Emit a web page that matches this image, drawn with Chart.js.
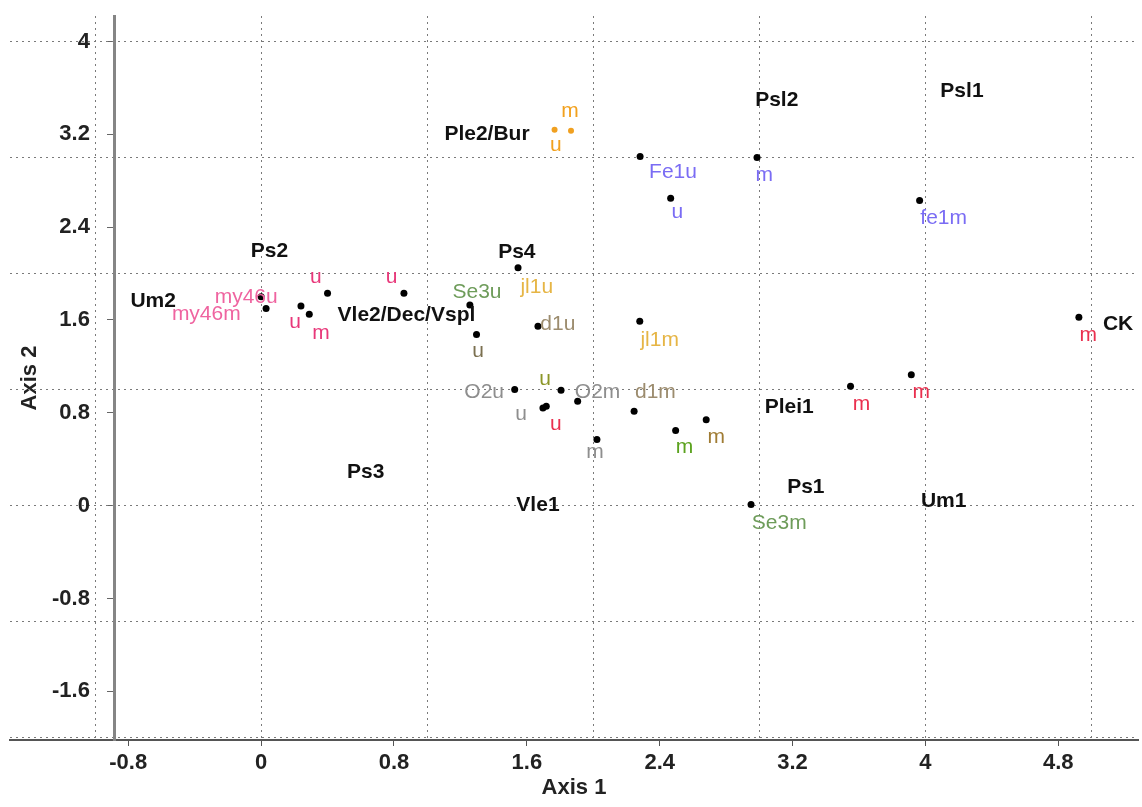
<!DOCTYPE html>
<html>
<head>
<meta charset="utf-8">
<script src="https://cdn.jsdelivr.net/npm/chart.js@4.4.1/dist/chart.umd.min.js"></script>
<style>
  body { margin: 0; background: #fff; }
  #wrap { width: 1142px; height: 807px; }
</style>
</head>
<body>
<div id="wrap"><canvas id="chart-pca"></canvas></div>
<script>
// axis ranges and tick steps
var xRange = [-1.512, 5.28];
var yRange = [-2.02, 4.22];
var tickStep = 0.8;
var gridStep = 1;
var yAxisAt = -0.88;

// black sample points
var dotX = [0.03, 0.0, 0.24, 0.29, 0.40, 0.86, 1.547, 1.257, 1.297, 1.667, 2.28,
            1.527, 1.806, 1.906, 1.697, 1.717, 2.246, 2.022, 2.496, 2.68,
            2.282, 2.466, 2.986, 3.965, 4.924, 3.915, 3.549, 2.95];
var dotY = [1.70, 1.80, 1.72, 1.65, 1.83, 1.83, 2.05, 1.73, 1.474, 1.546, 1.59,
            1.0, 0.994, 0.90, 0.842, 0.856, 0.813, 0.569, 0.647, 0.741,
            3.01, 2.65, 3.0, 2.63, 1.623, 1.129, 1.028, 0.01];

// orange markers (Ple2/Bur)
var accentX = [1.767, 1.866];
var accentY = [3.24, 3.23];

// group names
var groupText = ["Psl1", "Psl2", "Ple2/Bur", "Ps2", "Ps4", "Um2", "Vle2/Dec/Vspl", "CK",
                 "Plei1", "Ps3", "Ps1", "Vle1", "Um1"];
var groupX = [4.22, 3.105, 1.36, 0.05, 1.54, -0.65, 0.875, 5.16, 3.18, 0.63, 3.28, 1.667, 4.11];
var groupY = [3.57, 3.49, 3.20, 2.19, 2.18, 1.76, 1.64, 1.56, 0.845, 0.285, 0.155, 0.0, 0.035];

// sample labels
var labelText = ["my46u", "my46m", "u", "u", "u", "m",
                 "u", "m", "m", "m",
                 "m", "u",
                 "Fe1u", "u", "m", "fe1m",
                 "jl1u", "jl1m",
                 "Se3u", "Se3m",
                 "m", "u",
                 "d1u", "d1m", "u", "m",
                 "O2u", "O2m", "u", "m"];
var labelX = [-0.09, -0.33, 0.33, 0.785, 0.204, 0.36,
              1.775, 3.615, 3.975, 4.98,
              1.86, 1.775,
              2.48, 2.506, 3.03, 4.11,
              1.66, 2.40,
              1.30, 3.12,
              2.55, 1.71,
              1.787, 2.374, 1.307, 2.74,
              1.343, 2.026, 1.565, 2.01];
var labelY = [1.80, 1.65, 1.97, 1.97, 1.58, 1.49,
              0.70, 0.87, 0.98, 1.465,
              3.40, 3.11,
              2.87, 2.53, 2.85, 2.48,
              1.88, 1.43,
              1.84, -0.15,
              0.50, 1.086,
              1.56, 0.98, 1.33, 0.59,
              0.98, 0.98, 0.785, 0.457];
var labelSet = ["my46", "my46", "pink", "pink", "pink", "pink",
                "red", "red", "red", "red",
                "orange", "orange",
                "fe", "fe", "fe", "fe",
                "jl", "jl",
                "se", "se",
                "green", "olive",
                "d1", "d1", "olivebrown", "brown",
                "o2", "o2", "o2", "o2"];

var setColors = {
  my46: "#ef64a0", pink: "#e8387a", red: "#ea304f", orange: "#f2a11e",
  fe: "#7a6cf4", jl: "#e6b545", se: "#6e9c5a", green: "#5ba21e",
  olive: "#8c9628", d1: "#9c8c6e", olivebrown: "#7b7050", brown: "#a07c34",
  o2: "#8e8e8e"
};

var pointText = {
  id: "pointText",
  afterDatasetsDraw: function (chart) {
    var ctx = chart.ctx;
    chart.data.datasets.forEach(function (ds, i) {
      if (!ds.texts) return;
      var meta = chart.getDatasetMeta(i);
      ctx.save();
      ctx.font = ds.textFont;
      ctx.fillStyle = ds.textColor;
      ctx.textAlign = "center";
      ctx.textBaseline = "middle";
      meta.data.forEach(function (pt, j) {
        ctx.fillText(ds.texts[j], pt.x, pt.y);
      });
      ctx.restore();
    });
  }
};

function xy(xs, ys) {
  return xs.map(function (v, i) { return { x: v, y: ys[i] }; });
}

function shortNum(v) {
  return String(Math.round(v * 10) / 10);
}

var datasets = [
  {
    label: "dots",
    data: xy(dotX, dotY),
    pointRadius: 3.5,
    pointBackgroundColor: "#000",
    pointBorderWidth: 0,
  },
  {
    label: "accent",
    data: xy(accentX, accentY),
    pointRadius: 3,
    pointBackgroundColor: "#f0a020",
    pointBorderWidth: 0,
  },
  {
    label: "groups",
    data: xy(groupX, groupY),
    pointRadius: 0,
    texts: groupText,
    textFont: "bold 21px 'Liberation Sans', Arial, sans-serif",
    textColor: "#111",
  },
];

Object.keys(setColors).forEach(function (key) {
  var xs = [], ys = [], ts = [];
  labelSet.forEach(function (s, i) {
    if (s === key) { xs.push(labelX[i]); ys.push(labelY[i]); ts.push(labelText[i]); }
  });
  datasets.push({
    label: key,
    data: xy(xs, ys),
    pointRadius: 0,
    texts: ts,
    textFont: "21px 'Liberation Sans', Arial, sans-serif",
    textColor: setColors[key],
  });
});

var tickFont = { size: 22, weight: "bold", family: "'Liberation Sans', Arial, sans-serif" };
var gridLook = { color: "#7a7a7a", lineWidth: 1, drawTicks: false };
var gridBorder = { display: false, dash: [2, 4] };

var ctx1 = document.getElementById("chart-pca").getContext("2d");
var chart1 = new Chart(ctx1, {
  type: "scatter",
  data: { datasets: datasets },
  options: {
    responsive: true,
    maintainAspectRatio: false,
    animation: false,
    layout: { padding: { left: 10, top: 16, right: 0, bottom: 0 } },
    plugins: {
      legend: { display: false },
      tooltip: { enabled: false },
    },
    scales: {
      x: {
        type: "linear",
        position: "bottom",
        min: xRange[0],
        max: xRange[1],
        afterFit: function (scale) { scale.height = 67; },
        ticks: { stepSize: tickStep, includeBounds: false, color: "#222", font: tickFont, padding: 4, maxRotation: 0, callback: shortNum },
        grid: { drawOnChartArea: false, drawTicks: true, tickLength: 6, color: "#555" },
        border: { color: "#555", width: 2 },
        title: { display: true, text: "Axis 1", color: "#222", font: tickFont, padding: { top: 0, bottom: 6 } },
      },
      y: {
        type: "linear",
        position: { x: yAxisAt },
        min: yRange[0],
        max: yRange[1],
        ticks: { stepSize: tickStep, includeBounds: false, display: false },
        grid: { drawOnChartArea: false, drawTicks: true, tickLength: 6, color: "#666" },
        border: { color: "#858585", width: 3 },
      },
      yl: {
        type: "linear",
        axis: "y",
        position: "left",
        min: yRange[0],
        max: yRange[1],
        afterFit: function (scale) {
          scale.width = 0;
          scale.paddingTop = 0;
          scale.paddingBottom = 0;
        },
        ticks: { stepSize: tickStep, includeBounds: false, color: "#222", font: tickFont, mirror: true, crossAlign: "far", padding: 42, callback: shortNum },
        grid: { display: false },
        border: { display: false },
        title: { display: true, text: "Axis 2", color: "#222", font: tickFont, padding: { top: 7, bottom: 0 } },
      },
      gx: {
        type: "linear",
        axis: "x",
        position: "top",
        min: xRange[0],
        max: xRange[1],
        ticks: { stepSize: gridStep, includeBounds: false, display: false },
        grid: gridLook,
        border: gridBorder,
      },
      gy: {
        type: "linear",
        axis: "y",
        position: "right",
        min: yRange[0],
        max: yRange[1],
        ticks: { stepSize: gridStep, includeBounds: false, display: false },
        grid: gridLook,
        border: gridBorder,
      },
    },
  },
  plugins: [pointText],
});
</script>
</body>
</html>
